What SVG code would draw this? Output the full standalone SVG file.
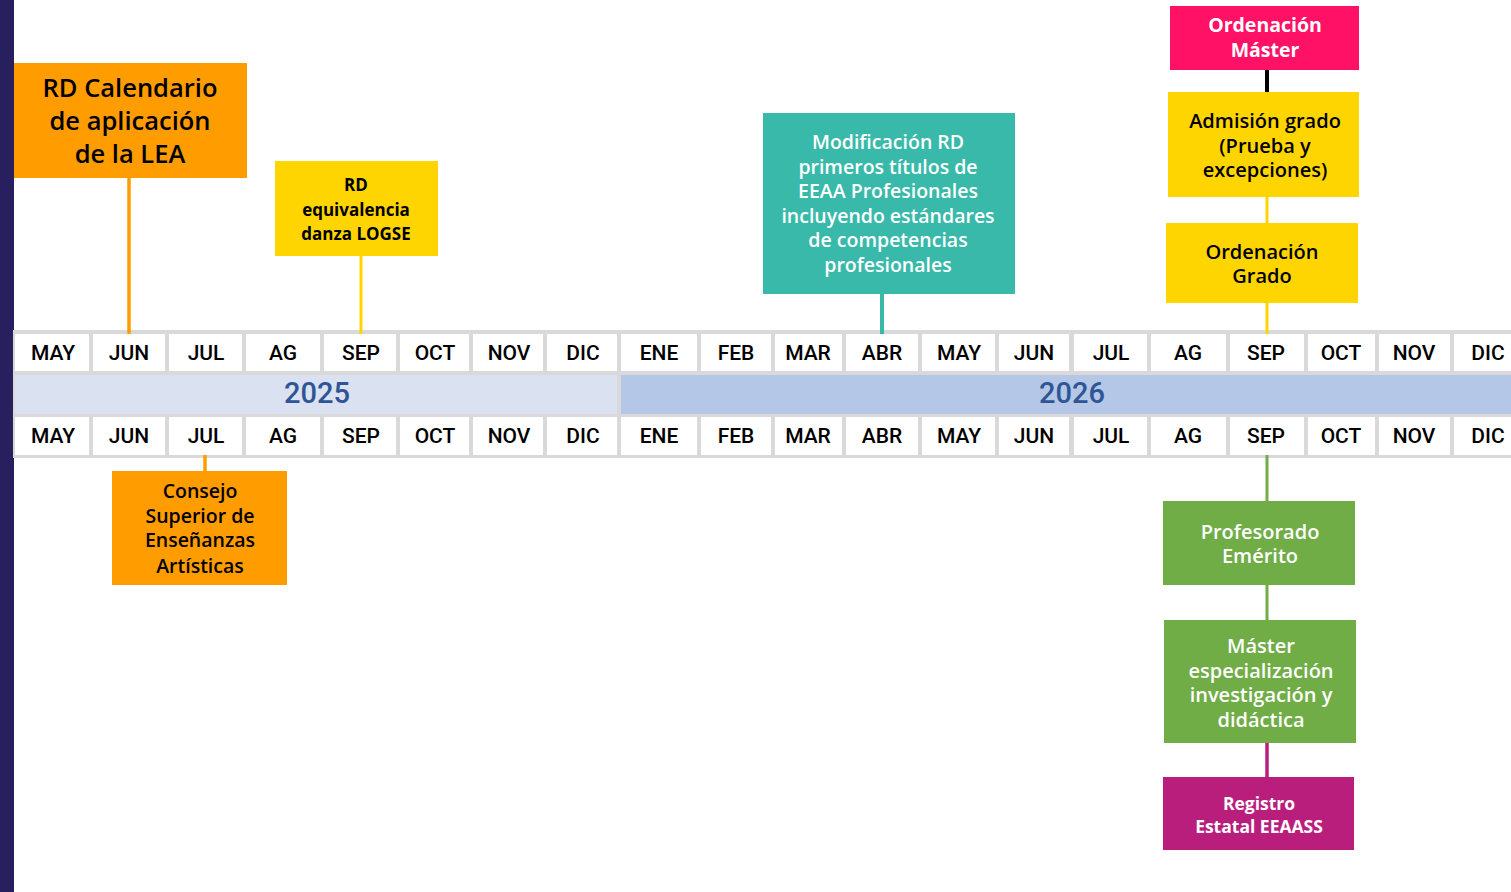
<svg xmlns="http://www.w3.org/2000/svg" width="1511" height="892" viewBox="0 0 1511 892">
<style>
.m{font-family:Roboto,"Liberation Sans",sans-serif;font-weight:500;font-size:21px;fill:#000;text-anchor:middle}
.yr{font-family:Roboto,"Liberation Sans",sans-serif;font-weight:500;font-size:29px;fill:#2f5597;text-anchor:middle}
.t{font-family:"Open Sans","Noto Sans",sans-serif;font-weight:600;text-anchor:middle}
.b{font-weight:700}
.cell{fill:#fff}
</style>
<rect x="0" y="0" width="1511" height="892" fill="#fff"/>
<rect x="0" y="0" width="14" height="892" fill="#28205e"/>

<g id="table">
<rect x="13" y="330" width="1498" height="128" fill="#d9d9d9"/>
<rect x="15" y="375" width="602" height="39" fill="#dae1f1"/>
<rect x="621" y="375" width="890" height="39" fill="#b4c7e7"/>
<text class="yr" x="317" y="403">2025</text>
<text class="yr" x="1072" y="403">2026</text>
<g id="row-top">
<rect class="cell" x="15" y="334" width="74" height="37"/>
<rect class="cell" x="93" y="334" width="72" height="37"/>
<rect class="cell" x="169" y="334" width="73" height="37"/>
<rect class="cell" x="246" y="334" width="74" height="37"/>
<rect class="cell" x="324" y="334" width="72" height="37"/>
<rect class="cell" x="400" y="334" width="69" height="37"/>
<rect class="cell" x="473" y="334" width="70" height="37"/>
<rect class="cell" x="547" y="334" width="70" height="37"/>
<rect class="cell" x="621" y="334" width="76" height="37"/>
<rect class="cell" x="701" y="334" width="70" height="37"/>
<rect class="cell" x="775" y="334" width="67" height="37"/>
<rect class="cell" x="846" y="334" width="72" height="37"/>
<rect class="cell" x="922" y="334" width="73" height="37"/>
<rect class="cell" x="999" y="334" width="70" height="37"/>
<rect class="cell" x="1074" y="334" width="73" height="37"/>
<rect class="cell" x="1151" y="334" width="75" height="37"/>
<rect class="cell" x="1230" y="334" width="74" height="37"/>
<rect class="cell" x="1308" y="334" width="67" height="37"/>
<rect class="cell" x="1379" y="334" width="71" height="37"/>
<rect class="cell" x="1454" y="334" width="57" height="37"/>
<text class="m" x="53" y="360">MAY</text>
<text class="m" x="129" y="360">JUN</text>
<text class="m" x="206" y="360">JUL</text>
<text class="m" x="283" y="360">AG</text>
<text class="m" x="361" y="360">SEP</text>
<text class="m" x="435" y="360">OCT</text>
<text class="m" x="509" y="360">NOV</text>
<text class="m" x="583" y="360">DIC</text>
<text class="m" x="659" y="360">ENE</text>
<text class="m" x="736" y="360">FEB</text>
<text class="m" x="808" y="360">MAR</text>
<text class="m" x="882" y="360">ABR</text>
<text class="m" x="959" y="360">MAY</text>
<text class="m" x="1034" y="360">JUN</text>
<text class="m" x="1111" y="360">JUL</text>
<text class="m" x="1188" y="360">AG</text>
<text class="m" x="1266" y="360">SEP</text>
<text class="m" x="1341" y="360">OCT</text>
<text class="m" x="1414" y="360">NOV</text>
<text class="m" x="1488" y="360">DIC</text>
</g>
<g id="row-bottom">
<rect class="cell" x="15" y="417" width="74" height="38"/>
<rect class="cell" x="93" y="417" width="72" height="38"/>
<rect class="cell" x="169" y="417" width="73" height="38"/>
<rect class="cell" x="246" y="417" width="74" height="38"/>
<rect class="cell" x="324" y="417" width="72" height="38"/>
<rect class="cell" x="400" y="417" width="69" height="38"/>
<rect class="cell" x="473" y="417" width="70" height="38"/>
<rect class="cell" x="547" y="417" width="70" height="38"/>
<rect class="cell" x="621" y="417" width="76" height="38"/>
<rect class="cell" x="701" y="417" width="70" height="38"/>
<rect class="cell" x="775" y="417" width="67" height="38"/>
<rect class="cell" x="846" y="417" width="72" height="38"/>
<rect class="cell" x="922" y="417" width="73" height="38"/>
<rect class="cell" x="999" y="417" width="70" height="38"/>
<rect class="cell" x="1074" y="417" width="73" height="38"/>
<rect class="cell" x="1151" y="417" width="75" height="38"/>
<rect class="cell" x="1230" y="417" width="74" height="38"/>
<rect class="cell" x="1308" y="417" width="67" height="38"/>
<rect class="cell" x="1379" y="417" width="71" height="38"/>
<rect class="cell" x="1454" y="417" width="57" height="38"/>
<text class="m" x="53" y="443">MAY</text>
<text class="m" x="129" y="443">JUN</text>
<text class="m" x="206" y="443">JUL</text>
<text class="m" x="283" y="443">AG</text>
<text class="m" x="361" y="443">SEP</text>
<text class="m" x="435" y="443">OCT</text>
<text class="m" x="509" y="443">NOV</text>
<text class="m" x="583" y="443">DIC</text>
<text class="m" x="659" y="443">ENE</text>
<text class="m" x="736" y="443">FEB</text>
<text class="m" x="808" y="443">MAR</text>
<text class="m" x="882" y="443">ABR</text>
<text class="m" x="959" y="443">MAY</text>
<text class="m" x="1034" y="443">JUN</text>
<text class="m" x="1111" y="443">JUL</text>
<text class="m" x="1188" y="443">AG</text>
<text class="m" x="1266" y="443">SEP</text>
<text class="m" x="1341" y="443">OCT</text>
<text class="m" x="1414" y="443">NOV</text>
<text class="m" x="1488" y="443">DIC</text>
</g>
</g>

<g id="connectors" fill="none">
<line x1="129" y1="178" x2="129" y2="334" stroke="#ff9c00" stroke-width="3.5"/>
<line x1="361" y1="256" x2="361" y2="334" stroke="#ffd500" stroke-width="3"/>
<line x1="882" y1="294" x2="882" y2="334" stroke="#39b9a9" stroke-width="4"/>
<line x1="1267" y1="70" x2="1267" y2="92" stroke="#000" stroke-width="4"/>
<line x1="1267" y1="197" x2="1267" y2="223" stroke="#ffd500" stroke-width="3"/>
<line x1="1267" y1="303" x2="1267" y2="334" stroke="#ffd500" stroke-width="3"/>
<line x1="205" y1="455" x2="205" y2="471" stroke="#ff9c00" stroke-width="3.5"/>
<line x1="1267" y1="455" x2="1267" y2="501" stroke="#70ad47" stroke-width="3"/>
<line x1="1267" y1="585" x2="1267" y2="620" stroke="#70ad47" stroke-width="3"/>
<line x1="1267" y1="743" x2="1267" y2="777" stroke="#b91e7d" stroke-width="3.5"/>
</g>

<g id="n-calendario">
<rect x="14" y="63" width="233" height="115" fill="#ff9c00"/>
<text class="t" font-size="25.5" fill="#000"><tspan x="130" y="97">RD Calendario</tspan><tspan x="130" y="130">de aplicación</tspan><tspan x="130" y="163">de la LEA</tspan></text>
</g>
<g id="n-equivalencia">
<rect x="275" y="161" width="163" height="95" fill="#ffd500"/>
<text class="t b" font-size="17" fill="#000"><tspan x="356" y="191">RD</tspan><tspan x="356" y="216">equivalencia</tspan><tspan x="356" y="240">danza LOGSE</tspan></text>
</g>
<g id="n-modificacion">
<rect x="763" y="113" width="252" height="181" fill="#39b9a9"/>
<text class="t" font-size="19.5" fill="#fff"><tspan x="888" y="149">Modificación RD</tspan><tspan x="888" y="174">primeros títulos de</tspan><tspan x="888" y="198">EEAA Profesionales</tspan><tspan x="888" y="223">incluyendo estándares</tspan><tspan x="888" y="247">de competencias</tspan><tspan x="888" y="272">profesionales</tspan></text>
</g>
<g id="n-ord-master">
<rect x="1170" y="6" width="189" height="64" fill="#ff1166"/>
<text class="t b" font-size="19.5" fill="#fff"><tspan x="1265" y="32">Ordenación</tspan><tspan x="1265" y="57">Máster</tspan></text>
</g>
<g id="n-admision">
<rect x="1168" y="92" width="191" height="105" fill="#ffd500"/>
<text class="t" font-size="20" fill="#000"><tspan x="1265" y="128">Admisión grado</tspan><tspan x="1265" y="153">(Prueba y</tspan><tspan x="1265" y="177">excepciones)</tspan></text>
</g>
<g id="n-ord-grado">
<rect x="1166" y="223" width="192" height="80" fill="#ffd500"/>
<text class="t" font-size="20" fill="#000"><tspan x="1262" y="259">Ordenación</tspan><tspan x="1262" y="283">Grado</tspan></text>
</g>
<g id="n-consejo">
<rect x="112" y="471" width="175" height="114" fill="#ff9c00"/>
<text class="t" font-size="19.5" fill="#000"><tspan x="200" y="498">Consejo</tspan><tspan x="200" y="523">Superior de</tspan><tspan x="200" y="547">Enseñanzas</tspan><tspan x="200" y="573">Artísticas</tspan></text>
</g>
<g id="n-emerito">
<rect x="1163" y="501" width="192" height="84" fill="#70ad47"/>
<text class="t" font-size="20" fill="#fff"><tspan x="1260" y="539">Profesorado</tspan><tspan x="1260" y="563">Emérito</tspan></text>
</g>
<g id="n-master-esp">
<rect x="1164" y="620" width="192" height="123" fill="#70ad47"/>
<text class="t" font-size="20" fill="#fff"><tspan x="1261" y="653">Máster</tspan><tspan x="1261" y="678">especialización</tspan><tspan x="1261" y="702">investigación y</tspan><tspan x="1261" y="727">didáctica</tspan></text>
</g>
<g id="n-registro">
<rect x="1163" y="777" width="191" height="73" fill="#b91e7d"/>
<text class="t b" font-size="17.5" fill="#fff"><tspan x="1259" y="810">Registro</tspan><tspan x="1259" y="833">Estatal EEAASS</tspan></text>
</g>
</svg>
